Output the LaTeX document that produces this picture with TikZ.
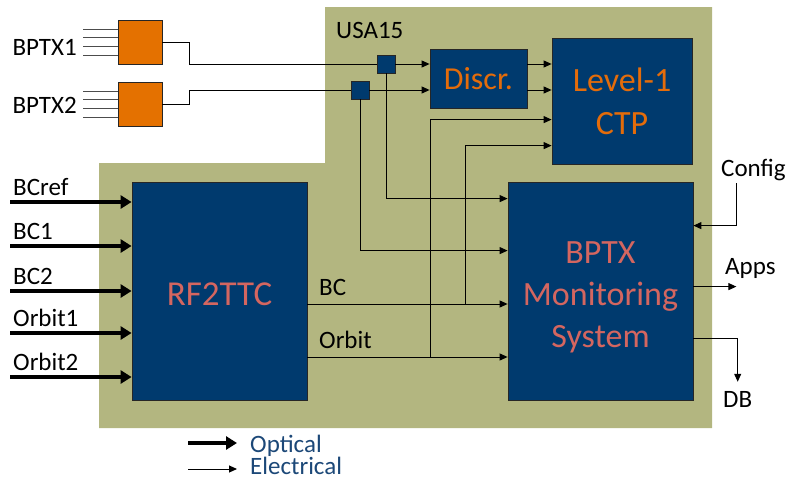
\documentclass[tikz,border=0pt]{standalone}
\usepackage{fontspec}
\setmainfont{Carlito}
\usepackage{tikz}
\usetikzlibrary{arrows.meta,calc,positioning}
\usepackage{xcolor}

\definecolor{sfondo}{RGB}{179,182,128}
\definecolor{blu}{RGB}{0,58,110}
\definecolor{arancio}{RGB}{228,113,0}
\definecolor{testoarancio}{RGB}{228,108,10}
\definecolor{salmone}{RGB}{212,102,96}
\definecolor{legenda}{RGB}{28,72,120}

\begin{document}
\begin{tikzpicture}[x=1pt, y=-1pt,
  blocco/.style={draw=black!85, fill=blu, line width=0.8pt, inner sep=0pt},
  lbl/.style={font=\fontsize{25}{30}\selectfont, inner sep=0pt},
  elet/.style={line width=1pt, -{Triangle[length=8pt,width=7pt]}},
  ottico/.style={line width=3.6pt, -{Triangle[length=11pt,width=13pt]}},
  filo/.style={line width=1pt}]

\useasboundingbox (0,0) rectangle (790,479);

% --- Area USA15 (sfondo) ---
\fill[sfondo] (99,163) -- (325,163) -- (325,7) -- (712,7) -- (712,428) -- (99,428) -- cycle;
\node[lbl, anchor=base west] (usa) at (336,38) {USA15};

% --- Blocchi principali ---
\node[blocco, minimum width=175pt, minimum height=218pt] (rf) at (219.5,291) {};
\node[text=salmone, font=\fontsize{35}{42}\selectfont] (rft) at ([yshift=-3pt]rf.center) {RF2TTC};
\node[blocco, minimum width=185pt, minimum height=218pt] (mon) at (600.5,291) {};
\node[text=salmone, align=center, font=\fontsize{34}{42}\selectfont] (mont)
      at ([yshift=-6pt]mon.center) {BPTX\\Monitoring\\System};
\node[blocco, minimum width=140pt, minimum height=126pt, text=testoarancio, align=center,
      font=\fontsize{34}{43}\selectfont] (ctp) at (622,101) {Level-1\\CTP};
\node[blocco, minimum width=97pt, minimum height=59pt, text=testoarancio,
      font=\fontsize{32}{38}\selectfont] (discr) at (478.5,78.5) {Discr.};
% splitter
\node[blocco, minimum size=18pt] (sq1) at (386,64) {};
\node[blocco, minimum size=18pt] (sq2) at (360,90) {};

% --- Sensori BPTX ---
\node[draw=black!85, fill=arancio, line width=0.8pt, minimum size=44pt, inner sep=0pt] (o1) at (140,42) {};
\node[draw=black!85, fill=arancio, line width=0.8pt, minimum size=44pt, inner sep=0pt] (o2) at (140,104) {};
\foreach \o in {o1,o2}{
  \foreach \d in {-13,-4.3,4.3,13}{
    \draw[filo, black!70] ([yshift=\d pt]\o.west) -- ++(-35,0);
  }
}
\node[lbl, anchor=east] (t1) at (77,47) {BPTX1};
\node[lbl, anchor=east] (t2) at (77,105) {BPTX2};

\draw[filo] (o1.east) -- ++(27,0) |- (sq1.west);
\draw[filo] (o2.east) -- ++(27,0) |- (sq2.west);
\draw[elet] (sq1.east) -- (discr.west |- sq1);
\draw[elet] (sq2.east) -- (discr.west |- sq2);
\draw[elet] (discr.east |- sq1) -- (ctp.west |- sq1);
\draw[elet] (discr.east |- sq2) -- (ctp.west |- sq2);
\draw[elet] (sq1.south) |- ([yshift=-17pt]mon.north west);
\draw[elet] (sq2.south) |- ([yshift=-69pt]mon.north west);

% --- Ingressi ottici RF2TTC ---
\foreach \y/\t [count=\i] in {202/BCref, 246/BC1, 291/BC2, 333/Orbit1, 377/Orbit2}{
  \coordinate (p\i) at (10,\y);
  \node[lbl, anchor=base west] (in\i) at ([shift={(3pt,7pt)}]p\i) {\t};
  \draw[ottico] (p\i) -- (rf.west |- p\i);
}

% --- Uscite BC e Orbit ---
\coordinate (ybc) at (0,304);
\coordinate (yorb) at (0,357);
\coordinate (jbc) at (465,304);
\coordinate (jorb) at (430,357);
\node[lbl, anchor=base west] (lbc) at (319,295) {BC};
\node[lbl, anchor=base west] (lorb) at (319,348) {Orbit};
\draw[elet] (rf.east |- ybc) -- (mon.west |- ybc);
\draw[elet] (rf.east |- yorb) -- (mon.west |- yorb);
\draw[elet] (jbc) |- ([yshift=-108pt]ctp.north west);
\draw[elet] (jorb) |- ([yshift=-82pt]ctp.north west);

% --- Config, Apps, DB ---
\node[lbl, anchor=base west] (cfg) at (721,176) {Config};
\node[lbl, anchor=base west] (apps) at (725,274) {Apps};
\node[lbl, anchor=base west] (db) at (723,407) {DB};
\coordinate (cf) at (736,183);
\draw[elet] (cf) |- ([yshift=-44pt]mon.north east);
\draw[elet] ([yshift=-105pt]mon.north east) -- ++(43,0);
\draw[elet] ([yshift=-157pt]mon.north east) -| ([yshift=9pt]db.north);

% --- Legenda ---
\coordinate (lo) at (188,443);
\coordinate (le) at (188,469);
\draw[ottico] (lo) -- ++(49,0);
\draw[elet] (le) -- ++(49,0);
\node[lbl, anchor=base west, text=legenda] (lopt) at (250,452) {Optical};
\node[lbl, anchor=base west, text=legenda] (lele) at (250,474) {Electrical};

\end{tikzpicture}
\end{document}
